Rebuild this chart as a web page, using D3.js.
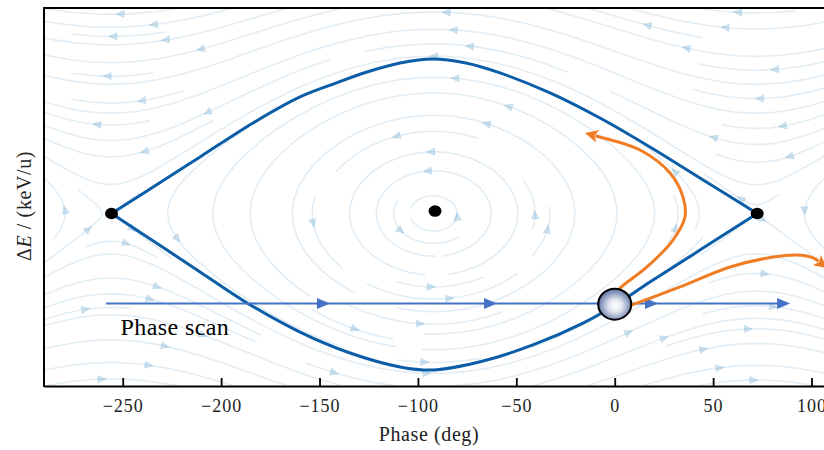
<!DOCTYPE html>
<html>
<head>
<meta charset="utf-8">
<script src="https://cdn.jsdelivr.net/npm/d3@7"></script>
<style>
  html, body { margin: 0; padding: 0; background: #ffffff; }
  svg { display: block; }
</style>
</head>
<body>
<svg id="chart" width="824" height="450"></svg>
<script>
// ---- Axis setup ----
const phaseTicks = [-250, -200, -150, -100, -50, 0, 50, 100];
const phaseDomain = [-290, 110];
const energyDomain = [-1.113, 1.326];

// ---- Separatrix branches: [phase (deg), ΔE] ----
const separatrixUpper = [
  [-255.7, 0], [-236.1, 0.158], [-210.7, 0.365], [-183.8, 0.584], [-159.9, 0.752],
  [-143.1, 0.835], [-125.9, 0.913], [-109.1, 0.971], [-92.4, 0.997], [-75.6, 0.971],
  [-58.3, 0.907], [-32.9, 0.778], [-7.5, 0.616], [17.9, 0.429], [43.3, 0.229], [72.4, 0]
];
const separatrixLower = [
  [-255.7, 0], [-227.5, -0.236], [-210.7, -0.377], [-186.8, -0.577], [-159.9, -0.765],
  [-134.5, -0.900], [-109.1, -0.990], [-92.4, -1.010], [-66.9, -0.952], [-41.6, -0.848],
  [-16.1, -0.707], [0.2, -0.590], [17.9, -0.442], [43.3, -0.236], [72.4, 0]
];

// ---- Fixed points (unstable, stable, unstable) ----
const fixedPoints = [[-255.7, 0], [-91.3, 0.016], [72.4, 0]];

// ---- Phase scan line ----
const scanEnergy = -0.58;
const scanRange = [-258.5, 89.1];
const scanArrowTips = [-144.7, -59.8, 22.0, 89.1];
const scanLabel = "Phase scan";

// ---- Particle ----
const particle = [0, -0.585];

// ---- Particle trajectories ----
const trajectoryCaptured = [
  [-2.4, -0.558], [2.7, -0.481], [16.4, -0.345], [29.6, -0.171], [35.7, -0.023],
  [34.7, 0.106], [28.1, 0.261], [12.9, 0.410], [-7.5, 0.494], [-15.1, 0.519]
];
const trajectoryLost = [
  [-1.3, -0.636], [8.8, -0.590], [33.2, -0.474], [58.6, -0.345], [80.5, -0.281],
  [92.7, -0.268], [100.8, -0.287], [107.9, -0.352]
];

// ---- Bucket parameters for the background flow field ----
const bucketCenter = -92;       // deg
const bucketHalfWidth = 164;    // deg, centre to unstable point
const bucketHeight = 1.0;       // ΔE at the top of the bucket

// ---- Colours ----
const colSeparatrix = "#0a5da6";
const colScan = "#4472c4";
const colOrange = "#f07d23";
const colFlow = "#1f77b4";

const svg = d3.select("#chart");
const margin = { left: 44, top: 8, bottom: 386 };
const x = d3.scaleLinear().domain(phaseDomain).range([margin.left, margin.left + 400 * 1.968]);
const y = d3.scaleLinear().domain(energyDomain).range([margin.bottom, margin.top]);
const plotW = x.range()[1] - x.range()[0];

const defs = svg.append("defs");
defs.append("clipPath").attr("id", "plotClip")
  .append("rect").attr("x", x.range()[0]).attr("y", margin.top)
  .attr("width", plotW).attr("height", margin.bottom - margin.top);
const grad = defs.append("radialGradient").attr("id", "ballGrad")
  .attr("cx", "52%").attr("cy", "55%").attr("r", "58%");
grad.append("stop").attr("offset", "0%").attr("stop-color", "#ffffff");
grad.append("stop").attr("offset", "35%").attr("stop-color", "#e2e6f0");
grad.append("stop").attr("offset", "100%").attr("stop-color", "#4c629a");

const plot = svg.append("g").attr("clip-path", "url(#plotClip)");

// ---- Background streamlines (streamplot-style with occupancy mask) ----
(function drawFlow() {
  const NM = 30;
  const mask = new Uint8Array(NM * NM);
  let traj = [], cur = null;
  const dPhi = phaseDomain[1] - phaseDomain[0];
  const dE = energyDomain[1] - energyDomain[0];
  const within = (fx, fy) => fx >= 0 && fx <= 1 && fy >= 0 && fy <= 1;
  const cell = (fx, fy) => [Math.round(fx * (NM - 1)), Math.round(fy * (NM - 1))];
  function update(fx, fy) {
    if (!within(fx, fy)) return false;
    const [xm, ym] = cell(fx, fy);
    if (!cur || cur[0] !== xm || cur[1] !== ym) {
      const k = ym * NM + xm;
      if (mask[k] === 0) { traj.push(k); mask[k] = 1; cur = [xm, ym]; }
      else return false;
    }
    return true;
  }
  function vel(fx, fy) {
    const phi = phaseDomain[0] + fx * dPhi;
    const E = energyDomain[0] + fy * dE;
    const th = (phi - bucketCenter) * Math.PI / bucketHalfWidth;
    const p = 2 * E / bucketHeight;
    return [(-p * bucketHalfWidth / Math.PI) / dPhi, (Math.sin(th) * bucketHeight / 2) / dE];
  }
  function dir(fx, fy, s) {
    const [u, v] = vel(fx, fy);
    const sp = Math.hypot(u, v);
    if (sp < 1e-7) return null;
    return [s * u / sp, s * v / sp];
  }
  function rk12(x0, y0, s, maxlength) {
    const maxerror = 0.003, maxds = Math.min(1 / NM, 0.1);
    let ds = maxds, stotal = 0, xi = x0, yi = y0;
    const pts = [];
    while (true) {
      if (!within(xi, yi)) break;
      pts.push([xi, yi]);
      const k1 = dir(xi, yi, s);
      if (!k1) break;
      const xa = xi + ds * k1[0], ya = yi + ds * k1[1];
      if (!within(xa, ya)) {
        // Euler step onto the boundary
        const cx = k1[0], cy = k1[1];
        const dsx = cx === 0 ? Infinity : (cx < 0 ? xi / -cx : (1 - xi) / cx);
        const dsy = cy === 0 ? Infinity : (cy < 0 ? yi / -cy : (1 - yi) / cy);
        const d = Math.min(dsx, dsy);
        pts.push([xi + cx * d, yi + cy * d]);
        stotal += d;
        break;
      }
      const k2 = dir(xa, ya, s);
      if (!k2) break;
      const dx1 = ds * k1[0], dy1 = ds * k1[1];
      const dx2 = ds * 0.5 * (k1[0] + k2[0]), dy2 = ds * 0.5 * (k1[1] + k2[1]);
      const err = Math.hypot(dx2 - dx1, dy2 - dy1);
      if (err < maxerror) {
        xi += dx2; yi += dy2;
        if (!update(xi, yi)) break;
        if (stotal + ds > maxlength) break;
        stotal += ds;
      }
      ds = err === 0 ? maxds : Math.min(maxds, 0.85 * ds * Math.sqrt(maxerror / err));
    }
    return [stotal, pts];
  }
  function integrate(x0, y0) {
    traj = []; cur = null;
    if (!update(x0, y0)) return null;
    let stotal = 0;
    const [s1, back] = rk12(x0, y0, -1, 4.0);
    stotal += s1;
    let pts = back.reverse();
    cur = cell(x0, y0);
    const [s2, fwd] = rk12(x0, y0, 1, 4.0);
    stotal += s2;
    pts = pts.concat(fwd.slice(1));
    if (stotal > 0.1) return pts;
    for (const k of traj) mask[k] = 0;
    return null;
  }
  function* seeds(nx, ny) {
    let xf = 0, yf = 1, xl = nx - 1, yl = ny - 1, xx = 0, yy = 0, d = "right";
    for (let i = 0; i < nx * ny; i++) {
      yield [xx, yy];
      if (d === "right") { xx++; if (xx >= xl) { xl--; d = "up"; } }
      else if (d === "up") { yy++; if (yy >= yl) { yl--; d = "left"; } }
      else if (d === "left") { xx--; if (xx <= xf) { xf++; d = "down"; } }
      else { yy--; if (yy <= yf) { yf++; d = "right"; } }
    }
  }
  const lines = [];
  for (const [xm, ym] of seeds(NM, NM)) {
    if (mask[ym * NM + xm] !== 0) continue;
    const t = integrate(xm / (NM - 1), ym / (NM - 1));
    if (t && t.length > 1) lines.push(t);
  }
  const toPx = p => [x(phaseDomain[0] + p[0] * dPhi), y(energyDomain[0] + p[1] * dE)];
  const line = d3.line();
  const g = plot.append("g");
  g.selectAll("path.flow").data(lines).join("path")
    .attr("class", "flow")
    .attr("d", t => line(t.map(toPx)))
    .attr("fill", "none").attr("stroke", colFlow)
    .attr("stroke-opacity", 0.13).attr("stroke-width", 1.6);
  // arrowheads at the middle of each streamline
  const heads = [];
  for (const t of lines) {
    const cum = [];
    let acc = 0;
    for (let i = 1; i < t.length; i++) { acc += Math.hypot(t[i][0] - t[i - 1][0], t[i][1] - t[i - 1][1]); cum.push(acc); }
    const n = d3.bisectLeft(cum, acc / 2);
    if (n + 1 >= t.length) continue;
    const tail = toPx(t[n]);
    const head = toPx([(t[n][0] + t[n + 1][0]) / 2, (t[n][1] + t[n + 1][1]) / 2]);
    const dx = head[0] - tail[0], dy = head[1] - tail[1];
    const L = Math.hypot(dx, dy);
    if (L === 0) continue;
    heads.push({ tip: head, ux: dx / L, uy: dy / L });
  }
  g.selectAll("path.head").data(heads).join("path")
    .attr("class", "head")
    .attr("d", h => {
      const len = 8, hw = 3.6;
      const bx = h.tip[0] - h.ux * len, by = h.tip[1] - h.uy * len;
      return `M${h.tip[0]},${h.tip[1]}L${bx - h.uy * hw},${by + h.ux * hw}L${bx + h.uy * hw},${by - h.ux * hw}Z`;
    })
    .attr("fill", colFlow).attr("fill-opacity", 0.2)
    .attr("stroke", colFlow).attr("stroke-opacity", 0.14).attr("stroke-width", 1);
})();

// ---- Separatrix ----
const sepLine = d3.line().x(d => x(d[0])).y(d => y(d[1])).curve(d3.curveCatmullRom.alpha(0.5));
[separatrixUpper, separatrixLower].forEach(branch => {
  plot.append("path").attr("d", sepLine(branch))
    .attr("fill", "none").attr("stroke", colSeparatrix).attr("stroke-width", 3);
});

// ---- Phase scan arrow ----
plot.append("line")
  .attr("x1", x(scanRange[0])).attr("x2", x(scanRange[1]) - 8)
  .attr("y1", y(scanEnergy)).attr("y2", y(scanEnergy))
  .attr("stroke", colScan).attr("stroke-width", 2);
plot.selectAll("path.scanhead").data(scanArrowTips).join("path")
  .attr("class", "scanhead")
  .attr("d", p => {
    const tx = x(p), ty = y(scanEnergy);
    return `M${tx},${ty}L${tx - 13},${ty - 5.5}L${tx - 13},${ty + 5.5}Z`;
  })
  .attr("fill", colScan);

const font = "Liberation Serif, Times New Roman, serif";

svg.append("text")
  .attr("x", 120.5).attr("y", 335)
  .attr("font-family", font)
  .attr("font-size", 24).attr("letter-spacing", 0.4)
  .attr("fill", "#000").text(scanLabel);

// ---- Particle trajectories with arrowheads ----
const trajLine = d3.line().x(d => x(d[0])).y(d => y(d[1])).curve(d3.curveCatmullRom.alpha(0.5));
[trajectoryCaptured, trajectoryLost].forEach(tr => {
  const path = plot.append("path").attr("d", trajLine(tr))
    .attr("fill", "none").attr("stroke", colOrange).attr("stroke-width", 3);
  const node = path.node();
  const L = node.getTotalLength();
  const headLen = 13, hw = 6.5;
  path.attr("stroke-dasharray", `${L - headLen + 2} ${L}`);
  const tip = node.getPointAtLength(L);
  const back = node.getPointAtLength(L - headLen);
  const dx = tip.x - back.x, dy = tip.y - back.y, d = Math.hypot(dx, dy);
  const ux = dx / d, uy = dy / d;
  const bx = tip.x - ux * headLen, by = tip.y - uy * headLen;
  const nx = bx + ux * 3, ny = by + uy * 3;
  plot.append("path")
    .attr("d", `M${tip.x},${tip.y}L${bx - uy * hw},${by + ux * hw}L${nx},${ny}L${bx + uy * hw},${by - ux * hw}Z`)
    .attr("fill", colOrange);
});

// ---- Fixed points ----
plot.selectAll("ellipse.fp").data(fixedPoints).join("ellipse")
  .attr("class", "fp")
  .attr("cx", d => x(d[0])).attr("cy", d => y(d[1]))
  .attr("rx", 6.5).attr("ry", 5.8).attr("fill", "#000");

// ---- Particle ----
plot.append("ellipse")
  .attr("cx", x(particle[0])).attr("cy", y(particle[1]))
  .attr("rx", 16.5).attr("ry", 15.5)
  .attr("fill", "url(#ballGrad)").attr("stroke", "#000").attr("stroke-width", 2);

// ---- Axes ----
const xAxis = d3.axisBottom(x).tickValues(phaseTicks).tickFormat(d3.format("d"))
  .tickSizeInner(-8).tickSizeOuter(0).tickPadding(13);
const gx = svg.append("g").attr("transform", `translate(0,${margin.bottom})`).call(xAxis);
gx.attr("font-family", font).attr("font-size", 18);
gx.select(".domain").attr("stroke", "#000").attr("stroke-width", 2);
gx.selectAll(".tick line").attr("stroke", "#000").attr("stroke-width", 1.8);
gx.selectAll(".tick text").attr("font-family", font).attr("font-size", 18)
  .attr("letter-spacing", 1).attr("fill", "#222");

// left and top spines
svg.append("line").attr("x1", x.range()[0]).attr("x2", x.range()[0])
  .attr("y1", margin.top).attr("y2", margin.bottom + 1)
  .attr("stroke", "#000").attr("stroke-width", 2);
svg.append("line").attr("x1", x.range()[0] - 1).attr("x2", x.range()[1])
  .attr("y1", margin.top).attr("y2", margin.top)
  .attr("stroke", "#000").attr("stroke-width", 2);

// axis labels
svg.append("text").attr("x", 429).attr("y", 441)
  .attr("text-anchor", "middle").attr("font-family", font).attr("font-size", 20)
  .attr("letter-spacing", 0.6).attr("fill", "#222").text("Phase (deg)");

const yl = svg.append("text").attr("transform", "translate(31,206) rotate(-90)")
  .attr("text-anchor", "middle").attr("font-family", font).attr("font-size", 20)
  .attr("letter-spacing", 0.6).attr("fill", "#222");
yl.append("tspan").text("Δ");
yl.append("tspan").attr("font-style", "italic").text("E");
yl.append("tspan").text(" / (keV/u)");
</script>
</body>
</html>
